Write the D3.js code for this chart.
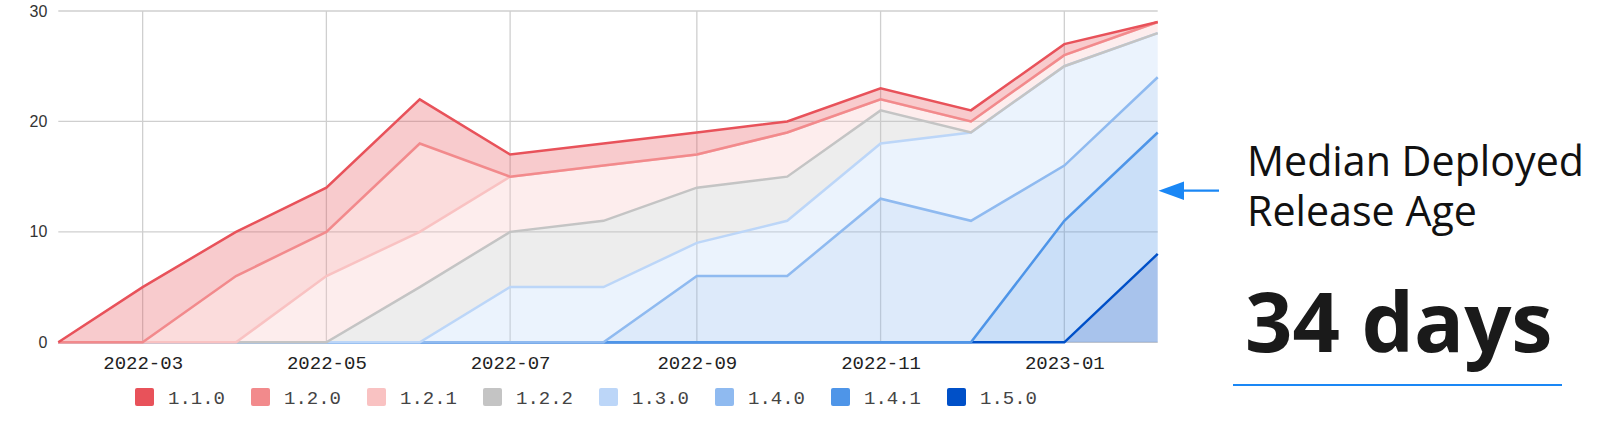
<!DOCTYPE html>
<html>
<head>
  <meta charset="utf-8">
  <title>Median Deployed Release Age</title>
  <script src="https://d3js.org/d3.v7.min.js"></script>
  <style>
    body { margin: 0; background: #fff; }
    svg { display: block; }
  </style>
</head>
<body>
  <script>
    // monthly snapshots, Feb 2022 .. Feb 2023
    var months = ["2022-02-01", "2022-03-01", "2022-04-01", "2022-05-01", "2022-06-01", "2022-07-01",
      "2022-08-01", "2022-09-01", "2022-10-01", "2022-11-01", "2022-12-01", "2023-01-01", "2023-02-01"];
    var versions = ["1.1.0", "1.2.0", "1.2.1", "1.2.2", "1.3.0", "1.4.0", "1.4.1", "1.5.0"];
    var colors = ["#e8525a", "#f28a8c", "#f9c2c2", "#c4c4c4", "#bcd6f8", "#8fbaf0", "#4e95e8", "#0050c8"];
    // deployments per version (stacked)
    var v110 = [0, 5, 4, 4, 4, 2, 2, 2, 1, 1, 1, 1, 0];
    var v120 = [0, 0, 6, 4, 8, 0, 0, 0, 0, 0, 0, 0, 0];
    var v121 = [0, 0, 0, 6, 5, 5, 5, 3, 4, 1, 1, 1, 1];
    var v122 = [0, 0, 0, 0, 5, 5, 6, 5, 4, 3, 0, 0, 0];
    var v130 = [0, 0, 0, 0, 0, 5, 5, 3, 5, 5, 8, 9, 4];
    var v140 = [0, 0, 0, 0, 0, 0, 0, 6, 6, 13, 11, 5, 5];
    var v141 = [0, 0, 0, 0, 0, 0, 0, 0, 0, 0, 0, 11, 11];
    var v150 = [0, 0, 0, 0, 0, 0, 0, 0, 0, 0, 0, 0, 8];
    var yTicks = [0, 10, 20, 30];
    var xTicks = ["2022-03-01", "2022-05-01", "2022-07-01", "2022-09-01", "2022-11-01", "2023-01-01"];
    var headline = ["Median Deployed", "Release Age"];
    var bigValue = "34 days";

    var series = [v110, v120, v121, v122, v130, v140, v141, v150];
    var parse = d3.timeParse("%Y-%m-%d");
    var rows = months.map(function(m, i) {
      var r = {date: parse(m)};
      versions.forEach(function(v, j) { r[v] = series[j][i]; });
      return r;
    });

    var W = 1600, H = 424;
    var pl = 58.3, pr = 1157.7, pt = 11, pb = 342.3;
    var svg = d3.select("body").append("svg").attr("width", W).attr("height", H);

    var x = d3.scaleTime().domain([parse(months[0]), parse(months[months.length - 1])]).range([pl, pr]);
    var y = d3.scaleLinear().domain([0, 30]).range([pb, pt]);

    /* grid */
    var grid = svg.append("g");
    grid.selectAll("line.h").data(yTicks).enter().append("line")
      .attr("x1", pl).attr("x2", pr)
      .attr("y1", function(d) { return y(d); }).attr("y2", function(d) { return y(d); })
      .attr("stroke", "#cfcfcf").attr("stroke-width", 1.3);
    grid.selectAll("line.v").data(xTicks).enter().append("line")
      .attr("x1", function(d) { return x(parse(d)); }).attr("x2", function(d) { return x(parse(d)); })
      .attr("y1", pt).attr("y2", pb)
      .attr("stroke", "#cfcfcf").attr("stroke-width", 1.3);

    /* stacked areas, last version at the bottom */
    var keys = versions.slice().reverse();
    var stacked = d3.stack().keys(keys)(rows);
    var colorOf = d3.scaleOrdinal().domain(versions).range(colors);

    var area = d3.area()
      .x(function(d) { return x(d.data.date); })
      .y0(function(d) { return y(d[0]); })
      .y1(function(d) { return y(d[1]); });
    var line = d3.line()
      .x(function(d) { return x(d.data.date); })
      .y(function(d) { return y(d[1]); });

    svg.append("g").selectAll("path").data(stacked).enter().append("path")
      .attr("d", area)
      .attr("fill", function(s) { return colorOf(s.key); })
      .attr("fill-opacity", function(s) { return s.key == "1.5.0" ? 0.34 : 0.3; });
    svg.append("g").selectAll("path").data(stacked).enter().append("path")
      .attr("d", line)
      .attr("fill", "none")
      .attr("stroke", function(s) { return colorOf(s.key); })
      .attr("stroke-width", 2.5)
      .attr("stroke-linejoin", "miter");

    /* axes labels */
    var yAxis = d3.axisLeft(y).tickValues(yTicks).tickSize(0).tickPadding(10);
    svg.append("g").attr("transform", "translate(" + (pl - 1) + ",0)").call(yAxis)
      .call(function(g) { g.select(".domain").remove(); })
      .selectAll("text")
      .attr("font-family", "Liberation Sans, Arial, sans-serif")
      .attr("font-size", 16).attr("fill", "#333");

    var xAxis = d3.axisBottom(x).tickValues(xTicks.map(parse)).tickFormat(d3.timeFormat("%Y-%m"))
      .tickSize(0).tickPadding(13);
    svg.append("g").attr("transform", "translate(0," + pb + ")").call(xAxis)
      .call(function(g) { g.select(".domain").remove(); })
      .selectAll("text")
      .attr("font-family", "Liberation Mono, monospace")
      .attr("font-size", 19).attr("fill", "#222");

    /* legend */
    var leg = svg.append("g").selectAll("g").data(versions).enter().append("g")
      .attr("transform", function(d, i) { return "translate(" + (135 + i * 116) + ",388)"; });
    leg.append("rect").attr("width", 19).attr("height", 18).attr("rx", 2)
      .attr("fill", function(d) { return colorOf(d); });
    leg.append("text").attr("x", 33).attr("y", 15.5).text(function(d) { return d; })
      .attr("font-family", "Liberation Mono, monospace")
      .attr("font-size", 19).attr("fill", "#444");

    /* annotation */
    var blue = "#1a87f5";
    svg.append("line").attr("x1", 1219).attr("x2", 1180).attr("y1", 190.7).attr("y2", 190.7)
      .attr("stroke", blue).attr("stroke-width", 2.2);
    svg.append("path").attr("d", "M1158.5,190.7 L1184,181.5 L1184,199.9 Z").attr("fill", blue);

    svg.append("g").selectAll("text").data(headline).enter().append("text")
      .attr("x", 1247).attr("y", function(d, i) { return 176 + i * 50; })
      .text(function(d) { return d; })
      .attr("font-family", "Open Sans, sans-serif").attr("font-size", 41.2).attr("fill", "#111");
    svg.append("text").attr("x", 1245).attr("y", 352.3).text(bigValue)
      .attr("font-family", "Open Sans, sans-serif").attr("font-weight", 700)
      .attr("font-size", 83).attr("fill", "#1a1a1a");
    svg.append("line").attr("x1", 1233).attr("x2", 1562).attr("y1", 385).attr("y2", 385)
      .attr("stroke", blue).attr("stroke-width", 2.2);
  </script>
</body>
</html>
